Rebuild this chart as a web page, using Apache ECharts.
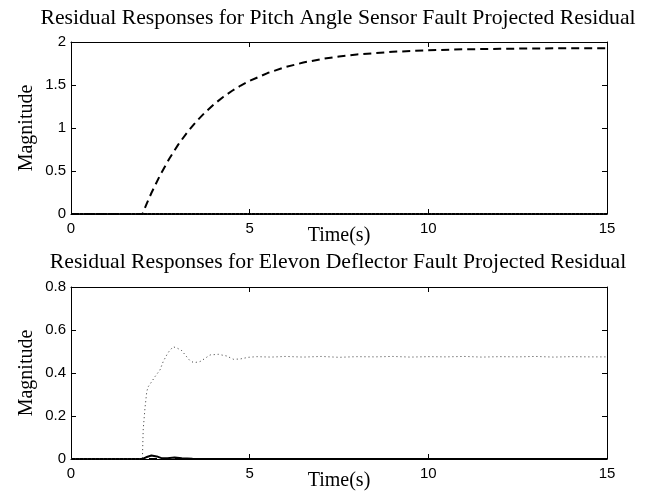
<!DOCTYPE html>
<html>
<head>
<meta charset="utf-8">
<script src="https://cdn.jsdelivr.net/npm/echarts@6/dist/echarts.min.js"></script>
<style>html,body{margin:0;padding:0;background:#fff;}#c{width:647px;height:493px;}</style>
</head>
<body>
<div id="c"></div>
<script>
// ---- data ----
var titles = ['Residual Responses for Pitch Angle Sensor Fault Projected Residual',
              'Residual Responses for Elevon Deflector Fault Projected Residual'];
var xTicks = [0, 5, 10, 15];
var yTicksTop = [0, 0.5, 1, 1.5, 2];
var yTicksBottom = [0, 0.2, 0.4, 0.6, 0.8];

var pitchT = [0, 2, 2.125, 2.25, 2.5, 2.75, 3, 3.25, 3.5, 3.75, 4, 4.25, 4.5, 4.75, 5, 5.5, 6, 6.5, 7, 7.5, 8, 9, 10, 11, 12, 13, 14, 15];
var pitchV = [0, 0, 0.126, 0.244, 0.457, 0.643, 0.807, 0.948, 1.073, 1.181, 1.275, 1.358, 1.43, 1.494, 1.548, 1.639, 1.708, 1.761, 1.801, 1.831, 1.855, 1.886, 1.904, 1.915, 1.921, 1.925, 1.927, 1.928];
var zeroT = [0, 15];
var zeroV = [0, 0];

var elevT = [0, 1.99, 2.0, 2.02, 2.07, 2.12, 2.16, 2.26, 2.35, 2.49, 2.58, 2.68, 2.75, 2.86, 2.98, 3.10, 3.22, 3.33, 3.44, 3.61, 3.75, 3.89, 4.12, 4.36, 4.54, 4.73, 4.96, 5.2, 5.6, 6, 6.5, 7, 7.5, 8, 8.5, 9, 9.5, 10, 10.5, 11, 11.5, 12, 12.5, 13, 13.5, 14, 14.5, 15];
var elevV = [0, 0, 0.01, 0.135, 0.236, 0.313, 0.336, 0.36, 0.383, 0.414, 0.453, 0.484, 0.502, 0.522, 0.515, 0.504, 0.479, 0.457, 0.448, 0.453, 0.468, 0.484, 0.487, 0.479, 0.464, 0.465, 0.473, 0.476, 0.474, 0.477, 0.474, 0.477, 0.473, 0.476, 0.475, 0.477, 0.474, 0.476, 0.475, 0.477, 0.474, 0.476, 0.475, 0.477, 0.474, 0.476, 0.475, 0.475];
var smallT = [0, 2, 2.1, 2.25, 2.4, 2.55, 2.7, 2.9, 3.1, 3.4, 15];
var smallV = [0, 0, 0.008, 0.016, 0.012, 0.003, 0.004, 0.007, 0.003, 0.001, 0];

function pairs(t, v) { return t.map(function (x, i) { return [x, v[i]]; }); }

// ---- chart ----
var sans = 'Liberation Sans';
var serif = 'Liberation Serif';
var grids = [
  { left: 71, right: 40, top: 42, height: 172 },
  { left: 71, right: 40, top: 287, height: 172 }
];
function xAx(gi, pos, show) {
  return {
    type: 'value', gridIndex: gi, position: pos,
    min: xTicks[0], max: xTicks[xTicks.length - 1], interval: xTicks[1] - xTicks[0],
    axisLine: { show: true, onZero: false, lineStyle: { color: '#000', width: 1 } },
    axisTick: { show: true, inside: true, length: 5, lineStyle: { color: '#000' } },
    axisLabel: { show: show, color: '#000', fontFamily: sans, fontSize: 15, margin: 7 },
    splitLine: { show: false },
    name: show ? 'Time(s)' : '', nameLocation: 'middle', nameGap: 12, nameMoveOverlap: false,
    nameTextStyle: { color: '#000', fontFamily: serif, fontSize: 20, verticalAlign: 'top' }
  };
}
function yAx(gi, pos, show, ticks) {
  return {
    type: 'value', gridIndex: gi, position: pos,
    min: ticks[0], max: ticks[ticks.length - 1], interval: ticks[1] - ticks[0],
    axisLine: { show: true, onZero: false, lineStyle: { color: '#000', width: 1 } },
    axisTick: { show: true, inside: true, length: 5, lineStyle: { color: '#000' } },
    axisLabel: { show: show, color: '#000', fontFamily: sans, fontSize: 15, margin: 5 },
    splitLine: { show: false },
    name: show ? 'Magnitude' : '', nameLocation: 'middle', nameGap: 34, nameMoveOverlap: false,
    nameTextStyle: { color: '#000', fontFamily: serif, fontSize: 20 }
  };
}
function line(xi, yi, data, type, width, color, z) {
  return {
    type: 'line', xAxisIndex: xi, yAxisIndex: yi, data: data,
    showSymbol: false, symbol: 'none', smooth: false, animation: false, z: z || 2,
    lineStyle: { color: color, width: width, type: type }
  };
}

var option = {
  backgroundColor: '#fff',
  animation: false,
  title: [
    { text: titles[0], left: 333, top: 2, textAlign: 'center',
      textStyle: { fontFamily: serif, fontSize: 21.7, fontWeight: 'normal', color: '#000' } },
    { text: titles[1], left: 333, top: 246, textAlign: 'center',
      textStyle: { fontFamily: serif, fontSize: 21.7, fontWeight: 'normal', color: '#000' } }
  ],
  grid: grids,
  xAxis: [xAx(0, 'bottom', true), xAx(0, 'top', false), xAx(1, 'bottom', true), xAx(1, 'top', false)],
  yAxis: [yAx(0, 'left', true, yTicksTop), yAx(0, 'right', false, yTicksTop),
          yAx(1, 'left', true, yTicksBottom), yAx(1, 'right', false, yTicksBottom)],
  series: [
    line(0, 0, pairs(zeroT, zeroV), 'solid', 2, '#000', 3),
    line(0, 0, pairs(zeroT, zeroV), [1, 3], 1, '#555', 3),
    line(0, 0, pairs(pitchT, pitchV), [8, 5], 2, '#000', 4),
    line(2, 2, pairs(zeroT, zeroV), [8, 5], 2, '#000', 3),
    line(2, 2, pairs(smallT, smallV), 'solid', 2, '#000', 4),
    line(2, 2, pairs(elevT, elevV), [1, 3], 1, '#333', 4)
  ]
};
var chart = echarts.init(document.getElementById('c'), null, { renderer: 'canvas' });
chart.setOption(option);
</script>
</body>
</html>
